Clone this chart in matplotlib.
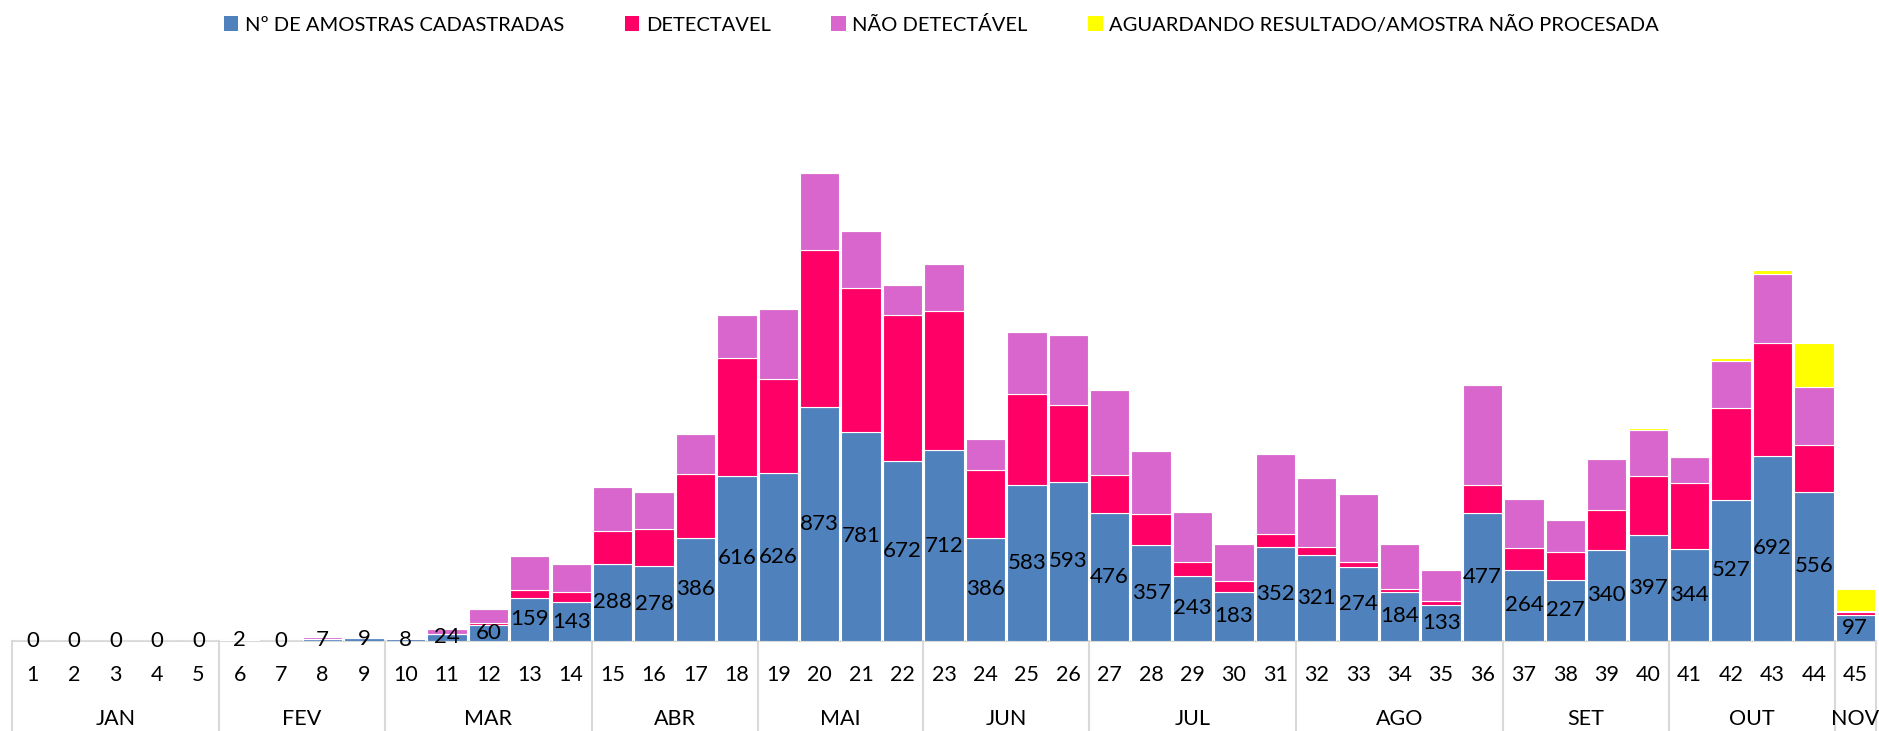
import matplotlib
matplotlib.use("Agg")
import matplotlib.pyplot as plt
from matplotlib.patches import Patch
from matplotlib.lines import Line2D
import numpy as np

plt.rcParams['font.family'] = ['Lato', 'DejaVu Sans']

weeks = list(range(1, 46))
months = ["JAN", "FEV", "MAR", "ABR", "MAI", "JUN", "JUL", "AGO", "SET", "OUT", "NOV"]
month_weeks = [5, 4, 5, 4, 4, 4, 5, 5, 4, 4, 1]

cadastradas = [0, 0, 0, 0, 0,
               2, 0, 7, 9,
               8, 24, 60, 159, 143,
               288, 278, 386, 616,
               626, 873, 781, 672,
               712, 386, 583, 593,
               476, 357, 243, 183, 352,
               321, 274, 184, 133, 477,
               264, 227, 340, 397,
               344, 527, 692, 556,
               97]
detectavel = [0, 0, 0, 0, 0,
              0, 0, 1, 1,
              1, 1, 6, 30, 40,
              123, 139, 239, 440,
              354, 587, 540, 546,
              520, 251, 339, 288,
              143, 116, 50, 41, 47,
              29, 19, 11, 16, 105,
              84, 106, 150, 219,
              246, 343, 420, 175,
              9]
nao_detectavel = [0, 0, 0, 0, 0,
                  1, 0, 4, 5,
                  5, 19, 54, 129, 103,
                  165, 139, 147, 162,
                  261, 288, 210, 111,
                  177, 116, 233, 263,
                  318, 238, 187, 136, 299,
                  257, 254, 167, 115, 373,
                  181, 118, 190, 173,
                  99, 177, 258, 217,
                  4]
aguardando = [0, 0, 0, 0, 0,
              0, 0, 0, 0,
              0, 0, 0, 0, 0,
              0, 0, 0, 0,
              0, 0, 0, 0,
              0, 0, 0, 0,
              0, 0, 0, 0, 0,
              0, 0, 0, 0, 1,
              1, 4, 2, 6,
              2, 9, 17, 167,
              85]

labels_legend = ["Nº DE AMOSTRAS CADASTRADAS", "DETECTAVEL", "NÃO DETECTÁVEL",
                 "AGUARDANDO RESULTADO/AMOSTRA NÃO PROCESADA"]
colors = ["#4F81BD", "#FF0066", "#D966CC", "#FFFF00"]

W, Hpx = 1879, 731
fig = plt.figure(figsize=(W / 100, Hpx / 100), dpi=100)
ymax = 1900
ax_h_px = ymax * 0.2673
base_px = 90.3
ax = fig.add_axes([12 / W, base_px / Hpx, (1876 - 12) / W, ax_h_px / Hpx])

x = np.array(weeks)
c = np.array(cadastradas, float)
d = np.array(detectavel, float)
n = np.array(nao_detectavel, float)
a = np.array(aguardando, float)

bw = 0.95
kw = dict(width=bw, edgecolor="white", linewidth=0.8, zorder=2)
ax.bar(x, c, color=colors[0], **kw)
ax.bar(x, d, bottom=c, color=colors[1], **kw)
ax.bar(x, n, bottom=c + d, color=colors[2], **kw)
ax.bar(x, a, bottom=c + d + n, color=colors[3], **kw)

for xi, v in zip(x, c):
    ax.text(xi, v / 2, f"{int(v)}", ha="center", va="center", fontsize=16,
            color="black", zorder=5)

ax.set_xlim(0.5, 45.5)
ax.set_ylim(0, ymax)
for s in ax.spines.values():
    s.set_visible(False)
ax.set_xticks([])
ax.set_yticks([])

gray = "#D9D9D9"
# baseline
ax.add_line(Line2D([0.5, 45.5], [0, 0], color=gray, lw=1.5, zorder=1, clip_on=False))

trans = ax.get_xaxis_transform()
yw = -34.3 / ax_h_px
ym = -78.3 / ax_h_px
ysep = -(base_px + 2) / ax_h_px
for w in weeks:
    ax.text(w, yw, str(w), transform=trans, ha="center", va="center", fontsize=15.5)

start = 0.5
bounds = [start]
for m, k in zip(months, month_weeks):
    end = start + k
    ax.text((start + end) / 2, ym, m, transform=trans, ha="center", va="center",
            fontsize=15.5, clip_on=False)
    bounds.append(end)
    start = end
for b in bounds:
    ax.add_line(Line2D([b, b], [0, ysep], transform=trans, color=gray, lw=1.5,
                       clip_on=False))

handles = [Patch(facecolor=col, edgecolor="none") for col in colors]
fig.legend(handles, labels_legend, loc="center", bbox_to_anchor=(0.501, 1 - 24.5 / Hpx),
           ncol=4, frameon=False, fontsize=14.5, handlelength=0.72, handleheight=0.72,
           handletextpad=0.33, columnspacing=3.0)

fig.savefig("out.png", dpi=100)
